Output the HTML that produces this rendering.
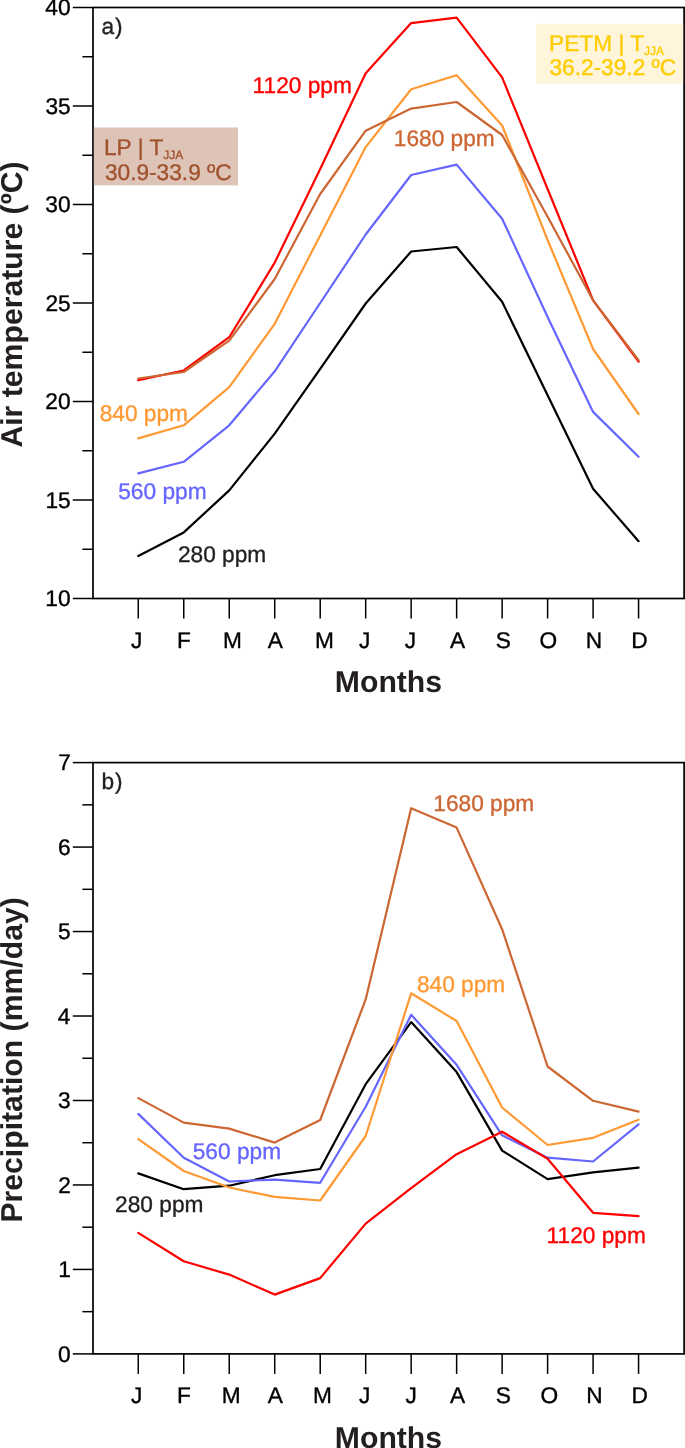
<!DOCTYPE html>
<html><head><meta charset="utf-8"><style>
html,body{margin:0;padding:0;background:#fff;overflow:hidden;}
svg{display:block;will-change:transform;}
text{font-family:"Liberation Sans",sans-serif;text-rendering:geometricPrecision;}
</style></head><body>
<svg width="685" height="1448" viewBox="0 0 685 1448">
<rect x="93.00" y="7.50" width="591.10" height="591.00" fill="none" stroke="#000000" stroke-width="1.7"/>
<line x1="72.80" y1="598.50" x2="93.00" y2="598.50" stroke="#000000" stroke-width="1.5"/>
<text transform="translate(70.59 606.20) scale(1 1.0)" font-size="22.7" text-anchor="end" fill="#000" font-weight="normal" stroke="#000" stroke-width="0.35" >10</text>
<line x1="72.80" y1="500.00" x2="93.00" y2="500.00" stroke="#000000" stroke-width="1.5"/>
<text transform="translate(70.65 507.70) scale(1 1.0)" font-size="22.7" text-anchor="end" fill="#000" font-weight="normal" stroke="#000" stroke-width="0.35" >15</text>
<line x1="72.80" y1="401.50" x2="93.00" y2="401.50" stroke="#000000" stroke-width="1.5"/>
<text transform="translate(70.59 409.20) scale(1 1.0)" font-size="22.7" text-anchor="end" fill="#000" font-weight="normal" stroke="#000" stroke-width="0.35" >20</text>
<line x1="72.80" y1="303.00" x2="93.00" y2="303.00" stroke="#000000" stroke-width="1.5"/>
<text transform="translate(70.65 310.70) scale(1 1.0)" font-size="22.7" text-anchor="end" fill="#000" font-weight="normal" stroke="#000" stroke-width="0.35" >25</text>
<line x1="72.80" y1="204.50" x2="93.00" y2="204.50" stroke="#000000" stroke-width="1.5"/>
<text transform="translate(70.59 212.20) scale(1 1.0)" font-size="22.7" text-anchor="end" fill="#000" font-weight="normal" stroke="#000" stroke-width="0.35" >30</text>
<line x1="72.80" y1="106.00" x2="93.00" y2="106.00" stroke="#000000" stroke-width="1.5"/>
<text transform="translate(70.65 113.70) scale(1 1.0)" font-size="22.7" text-anchor="end" fill="#000" font-weight="normal" stroke="#000" stroke-width="0.35" >35</text>
<line x1="72.80" y1="7.50" x2="93.00" y2="7.50" stroke="#000000" stroke-width="1.5"/>
<text transform="translate(70.59 15.20) scale(1 1.0)" font-size="22.7" text-anchor="end" fill="#000" font-weight="normal" stroke="#000" stroke-width="0.35" >40</text>
<line x1="82.40" y1="549.25" x2="93.00" y2="549.25" stroke="#000000" stroke-width="1.5"/>
<line x1="82.40" y1="450.75" x2="93.00" y2="450.75" stroke="#000000" stroke-width="1.5"/>
<line x1="82.40" y1="352.25" x2="93.00" y2="352.25" stroke="#000000" stroke-width="1.5"/>
<line x1="82.40" y1="253.75" x2="93.00" y2="253.75" stroke="#000000" stroke-width="1.5"/>
<line x1="82.40" y1="155.25" x2="93.00" y2="155.25" stroke="#000000" stroke-width="1.5"/>
<line x1="82.40" y1="56.75" x2="93.00" y2="56.75" stroke="#000000" stroke-width="1.5"/>
<line x1="138.28" y1="598.50" x2="138.28" y2="618.50" stroke="#000000" stroke-width="1.5"/>
<text transform="translate(131.09 647.60) scale(1 1.0)" font-size="22.7" text-anchor="start" fill="#000" font-weight="normal" stroke="#000" stroke-width="0.35" >J</text>
<line x1="183.76" y1="598.50" x2="183.76" y2="618.50" stroke="#000000" stroke-width="1.5"/>
<text transform="translate(177.09 647.60) scale(1 1.0)" font-size="22.7" text-anchor="start" fill="#000" font-weight="normal" stroke="#000" stroke-width="0.35" >F</text>
<line x1="229.24" y1="598.50" x2="229.24" y2="618.50" stroke="#000000" stroke-width="1.5"/>
<text transform="translate(223.10 647.60) scale(1 1.0)" font-size="22.7" text-anchor="start" fill="#000" font-weight="normal" stroke="#000" stroke-width="0.35" >M</text>
<line x1="274.72" y1="598.50" x2="274.72" y2="618.50" stroke="#000000" stroke-width="1.5"/>
<text transform="translate(267.83 647.60) scale(1 1.0)" font-size="22.7" text-anchor="start" fill="#000" font-weight="normal" stroke="#000" stroke-width="0.35" >A</text>
<line x1="320.20" y1="598.50" x2="320.20" y2="618.50" stroke="#000000" stroke-width="1.5"/>
<text transform="translate(315.05 647.60) scale(1 1.0)" font-size="22.7" text-anchor="start" fill="#000" font-weight="normal" stroke="#000" stroke-width="0.35" >M</text>
<line x1="365.68" y1="598.50" x2="365.68" y2="618.50" stroke="#000000" stroke-width="1.5"/>
<text transform="translate(359.04 647.60) scale(1 1.0)" font-size="22.7" text-anchor="start" fill="#000" font-weight="normal" stroke="#000" stroke-width="0.35" >J</text>
<line x1="411.16" y1="598.50" x2="411.16" y2="618.50" stroke="#000000" stroke-width="1.5"/>
<text transform="translate(404.79 647.60) scale(1 1.0)" font-size="22.7" text-anchor="start" fill="#000" font-weight="normal" stroke="#000" stroke-width="0.35" >J</text>
<line x1="456.64" y1="598.50" x2="456.64" y2="618.50" stroke="#000000" stroke-width="1.5"/>
<text transform="translate(450.08 647.60) scale(1 1.0)" font-size="22.7" text-anchor="start" fill="#000" font-weight="normal" stroke="#000" stroke-width="0.35" >A</text>
<line x1="502.12" y1="598.50" x2="502.12" y2="618.50" stroke="#000000" stroke-width="1.5"/>
<text transform="translate(495.79 647.60) scale(1 1.0)" font-size="22.7" text-anchor="start" fill="#000" font-weight="normal" stroke="#000" stroke-width="0.35" >S</text>
<line x1="547.60" y1="598.50" x2="547.60" y2="618.50" stroke="#000000" stroke-width="1.5"/>
<text transform="translate(539.58 647.60) scale(1 1.0)" font-size="22.7" text-anchor="start" fill="#000" font-weight="normal" stroke="#000" stroke-width="0.35" >O</text>
<line x1="593.08" y1="598.50" x2="593.08" y2="618.50" stroke="#000000" stroke-width="1.5"/>
<text transform="translate(585.85 647.60) scale(1 1.0)" font-size="22.7" text-anchor="start" fill="#000" font-weight="normal" stroke="#000" stroke-width="0.35" >N</text>
<line x1="638.56" y1="598.50" x2="638.56" y2="618.50" stroke="#000000" stroke-width="1.5"/>
<text transform="translate(631.32 647.60) scale(1 1.0)" font-size="22.7" text-anchor="start" fill="#000" font-weight="normal" stroke="#000" stroke-width="0.35" >D</text>
<text transform="translate(388.45 692.20) scale(1 1.0)" font-size="30.2" text-anchor="middle" fill="#231f20" font-weight="bold" >Months</text>
<text x="0" y="0" font-size="30.2" font-weight="bold" fill="#231f20" text-anchor="middle" transform="translate(22.3 304.5) rotate(-90)">Air temperature (ºC)</text>
<text transform="translate(101.50 34.00) scale(1 1.0)" font-size="22.7" text-anchor="start" fill="#231f20" font-weight="normal" stroke="#231f20" stroke-width="0.35" >a<tspan dx="0.9">)</tspan></text>
<rect x="93.9" y="127.5" width="144.1" height="57.9" fill="#dec3b7"/>
<rect x="536.1" y="23.7" width="147" height="59.9" fill="#fef5da"/>
<text transform="translate(103.99 155.00) scale(1 1.0)" font-size="22.7" text-anchor="start" fill="#a0522d" font-weight="normal" stroke="#a0522d" stroke-width="0.35" >LP | T<tspan font-size="12" dy="4">JJA</tspan></text>
<text transform="translate(104.89 180.20) scale(1 1.0)" font-size="22.7" text-anchor="start" fill="#a0522d" font-weight="normal" stroke="#a0522d" stroke-width="0.35" >30.9-33.9 ºC</text>
<text transform="translate(549.09 50.60) scale(1 1.0)" font-size="22.7" text-anchor="start" fill="#ffcc00" font-weight="normal" stroke="#ffcc00" stroke-width="0.35" >PETM | T<tspan font-size="12" dy="4">JJA</tspan></text>
<text transform="translate(549.39 75.30) scale(1 1.0)" font-size="22.7" text-anchor="start" fill="#ffcc00" font-weight="normal" stroke="#ffcc00" stroke-width="0.35" >36.2-39.2 ºC</text>
<polyline points="138.28,556.10 183.76,532.40 229.24,490.40 274.72,433.60 320.20,368.80 365.68,303.50 411.16,251.50 456.64,247.00 502.12,301.80 547.60,395.30 593.08,488.80 638.56,541.20" fill="none" stroke="#000000" stroke-width="2.2" stroke-linejoin="round" stroke-linecap="round"/>
<polyline points="138.28,473.40 183.76,461.80 229.24,425.30 274.72,371.30 320.20,303.00 365.68,234.50 411.16,175.00 456.64,164.60 502.12,218.70 547.60,317.00 593.08,411.90 638.56,456.80" fill="none" stroke="#6666ff" stroke-width="2.2" stroke-linejoin="round" stroke-linecap="round"/>
<polyline points="138.28,438.40 183.76,425.30 229.24,387.10 274.72,323.80 320.20,235.40 365.68,147.10 411.16,89.30 456.64,75.30 502.12,125.50 547.60,240.00 593.08,349.00 638.56,414.00" fill="none" stroke="#ff9933" stroke-width="2.2" stroke-linejoin="round" stroke-linecap="round"/>
<polyline points="138.28,380.20 183.76,370.50 229.24,337.20 274.72,262.60 320.20,169.00 365.68,73.20 411.16,23.10 456.64,17.60 502.12,77.40 547.60,189.00 593.08,300.30 638.56,361.60" fill="none" stroke="#ff0000" stroke-width="2.2" stroke-linejoin="round" stroke-linecap="round"/>
<polyline points="138.28,378.50 183.76,372.00 229.24,340.70 274.72,279.00 320.20,194.00 365.68,130.70 411.16,108.60 456.64,102.00 502.12,135.00 547.60,216.70 593.08,300.30 638.56,360.10" fill="none" stroke="#cc6633" stroke-width="2.2" stroke-linejoin="round" stroke-linecap="round"/>
<text transform="translate(252.62 92.50) scale(1 1.0)" font-size="22.7" text-anchor="start" fill="#ff0000" font-weight="normal" stroke="#ff0000" stroke-width="0.35" >1120 ppm</text>
<text transform="translate(393.82 146.00) scale(1 1.0)" font-size="22.7" text-anchor="start" fill="#cc6633" font-weight="normal" stroke="#cc6633" stroke-width="0.35" >1680 ppm</text>
<text transform="translate(99.66 420.60) scale(1 1.0)" font-size="22.7" text-anchor="start" fill="#ff9933" font-weight="normal" stroke="#ff9933" stroke-width="0.35" >840 ppm</text>
<text transform="translate(118.24 499.40) scale(1 1.0)" font-size="22.7" text-anchor="start" fill="#6666ff" font-weight="normal" stroke="#6666ff" stroke-width="0.35" >560 ppm</text>
<text transform="translate(177.91 561.60) scale(1 1.0)" font-size="22.7" text-anchor="start" fill="#231f20" font-weight="normal" stroke="#231f20" stroke-width="0.35" >280 ppm</text>
<rect x="93.00" y="762.60" width="591.10" height="591.30" fill="none" stroke="#000000" stroke-width="1.7"/>
<line x1="72.80" y1="1353.90" x2="93.00" y2="1353.90" stroke="#000000" stroke-width="1.5"/>
<text transform="translate(70.59 1361.60) scale(1 1.0)" font-size="22.7" text-anchor="end" fill="#000" font-weight="normal" stroke="#000" stroke-width="0.35" >0</text>
<line x1="72.80" y1="1269.43" x2="93.00" y2="1269.43" stroke="#000000" stroke-width="1.5"/>
<text transform="translate(70.81 1277.13) scale(1 1.0)" font-size="22.7" text-anchor="end" fill="#000" font-weight="normal" stroke="#000" stroke-width="0.35" >1</text>
<line x1="72.80" y1="1184.96" x2="93.00" y2="1184.96" stroke="#000000" stroke-width="1.5"/>
<text transform="translate(70.84 1192.66) scale(1 1.0)" font-size="22.7" text-anchor="end" fill="#000" font-weight="normal" stroke="#000" stroke-width="0.35" >2</text>
<line x1="72.80" y1="1100.49" x2="93.00" y2="1100.49" stroke="#000000" stroke-width="1.5"/>
<text transform="translate(70.70 1108.19) scale(1 1.0)" font-size="22.7" text-anchor="end" fill="#000" font-weight="normal" stroke="#000" stroke-width="0.35" >3</text>
<line x1="72.80" y1="1016.01" x2="93.00" y2="1016.01" stroke="#000000" stroke-width="1.5"/>
<text transform="translate(70.37 1023.71) scale(1 1.0)" font-size="22.7" text-anchor="end" fill="#000" font-weight="normal" stroke="#000" stroke-width="0.35" >4</text>
<line x1="72.80" y1="931.54" x2="93.00" y2="931.54" stroke="#000000" stroke-width="1.5"/>
<text transform="translate(70.65 939.24) scale(1 1.0)" font-size="22.7" text-anchor="end" fill="#000" font-weight="normal" stroke="#000" stroke-width="0.35" >5</text>
<line x1="72.80" y1="847.07" x2="93.00" y2="847.07" stroke="#000000" stroke-width="1.5"/>
<text transform="translate(70.70 854.77) scale(1 1.0)" font-size="22.7" text-anchor="end" fill="#000" font-weight="normal" stroke="#000" stroke-width="0.35" >6</text>
<line x1="72.80" y1="762.60" x2="93.00" y2="762.60" stroke="#000000" stroke-width="1.5"/>
<text transform="translate(70.84 770.30) scale(1 1.0)" font-size="22.7" text-anchor="end" fill="#000" font-weight="normal" stroke="#000" stroke-width="0.35" >7</text>
<line x1="82.40" y1="1311.66" x2="93.00" y2="1311.66" stroke="#000000" stroke-width="1.5"/>
<line x1="82.40" y1="1227.19" x2="93.00" y2="1227.19" stroke="#000000" stroke-width="1.5"/>
<line x1="82.40" y1="1142.72" x2="93.00" y2="1142.72" stroke="#000000" stroke-width="1.5"/>
<line x1="82.40" y1="1058.25" x2="93.00" y2="1058.25" stroke="#000000" stroke-width="1.5"/>
<line x1="82.40" y1="973.78" x2="93.00" y2="973.78" stroke="#000000" stroke-width="1.5"/>
<line x1="82.40" y1="889.31" x2="93.00" y2="889.31" stroke="#000000" stroke-width="1.5"/>
<line x1="82.40" y1="804.84" x2="93.00" y2="804.84" stroke="#000000" stroke-width="1.5"/>
<line x1="138.28" y1="1353.90" x2="138.28" y2="1373.90" stroke="#000000" stroke-width="1.5"/>
<text transform="translate(131.09 1403.30) scale(1 1.0)" font-size="22.7" text-anchor="start" fill="#000" font-weight="normal" stroke="#000" stroke-width="0.35" >J</text>
<line x1="183.76" y1="1353.90" x2="183.76" y2="1373.90" stroke="#000000" stroke-width="1.5"/>
<text transform="translate(177.09 1403.30) scale(1 1.0)" font-size="22.7" text-anchor="start" fill="#000" font-weight="normal" stroke="#000" stroke-width="0.35" >F</text>
<line x1="229.24" y1="1353.90" x2="229.24" y2="1373.90" stroke="#000000" stroke-width="1.5"/>
<text transform="translate(221.65 1403.30) scale(1 1.0)" font-size="22.7" text-anchor="start" fill="#000" font-weight="normal" stroke="#000" stroke-width="0.35" >M</text>
<line x1="274.72" y1="1353.90" x2="274.72" y2="1373.90" stroke="#000000" stroke-width="1.5"/>
<text transform="translate(267.83 1403.30) scale(1 1.0)" font-size="22.7" text-anchor="start" fill="#000" font-weight="normal" stroke="#000" stroke-width="0.35" >A</text>
<line x1="320.20" y1="1353.90" x2="320.20" y2="1373.90" stroke="#000000" stroke-width="1.5"/>
<text transform="translate(312.90 1403.30) scale(1 1.0)" font-size="22.7" text-anchor="start" fill="#000" font-weight="normal" stroke="#000" stroke-width="0.35" >M</text>
<line x1="365.68" y1="1353.90" x2="365.68" y2="1373.90" stroke="#000000" stroke-width="1.5"/>
<text transform="translate(359.04 1403.30) scale(1 1.0)" font-size="22.7" text-anchor="start" fill="#000" font-weight="normal" stroke="#000" stroke-width="0.35" >J</text>
<line x1="411.16" y1="1353.90" x2="411.16" y2="1373.90" stroke="#000000" stroke-width="1.5"/>
<text transform="translate(405.49 1403.30) scale(1 1.0)" font-size="22.7" text-anchor="start" fill="#000" font-weight="normal" stroke="#000" stroke-width="0.35" >J</text>
<line x1="456.64" y1="1353.90" x2="456.64" y2="1373.90" stroke="#000000" stroke-width="1.5"/>
<text transform="translate(450.08 1403.30) scale(1 1.0)" font-size="22.7" text-anchor="start" fill="#000" font-weight="normal" stroke="#000" stroke-width="0.35" >A</text>
<line x1="502.12" y1="1353.90" x2="502.12" y2="1373.90" stroke="#000000" stroke-width="1.5"/>
<text transform="translate(495.79 1403.30) scale(1 1.0)" font-size="22.7" text-anchor="start" fill="#000" font-weight="normal" stroke="#000" stroke-width="0.35" >S</text>
<line x1="547.60" y1="1353.90" x2="547.60" y2="1373.90" stroke="#000000" stroke-width="1.5"/>
<text transform="translate(540.48 1403.30) scale(1 1.0)" font-size="22.7" text-anchor="start" fill="#000" font-weight="normal" stroke="#000" stroke-width="0.35" >O</text>
<line x1="593.08" y1="1353.90" x2="593.08" y2="1373.90" stroke="#000000" stroke-width="1.5"/>
<text transform="translate(586.20 1403.30) scale(1 1.0)" font-size="22.7" text-anchor="start" fill="#000" font-weight="normal" stroke="#000" stroke-width="0.35" >N</text>
<line x1="638.56" y1="1353.90" x2="638.56" y2="1373.90" stroke="#000000" stroke-width="1.5"/>
<text transform="translate(631.52 1403.30) scale(1 1.0)" font-size="22.7" text-anchor="start" fill="#000" font-weight="normal" stroke="#000" stroke-width="0.35" >D</text>
<text transform="translate(388.45 1447.60) scale(1 1.0)" font-size="30.2" text-anchor="middle" fill="#231f20" font-weight="bold" >Months</text>
<text x="0" y="0" font-size="30.2" font-weight="bold" fill="#231f20" text-anchor="middle" transform="translate(22.3 1059.9) rotate(-90)">Precipitation (mm/day)</text>
<text transform="translate(101.50 789.10) scale(1 1.0)" font-size="22.7" text-anchor="start" fill="#231f20" font-weight="normal" stroke="#231f20" stroke-width="0.35" >b<tspan dx="0.9">)</tspan></text>
<polyline points="138.28,1173.40 183.76,1189.20 229.24,1185.70 274.72,1175.20 320.20,1169.00 365.68,1084.20 411.16,1022.10 456.64,1072.10 502.12,1150.60 547.60,1179.10 593.08,1172.30 638.56,1167.70" fill="none" stroke="#000000" stroke-width="2.2" stroke-linejoin="round" stroke-linecap="round"/>
<polyline points="138.28,1113.90 183.76,1157.70 229.24,1181.50 274.72,1179.70 320.20,1182.80 365.68,1106.80 411.16,1014.80 456.64,1064.80 502.12,1135.30 547.60,1157.70 593.08,1161.50 638.56,1124.30" fill="none" stroke="#6666ff" stroke-width="2.2" stroke-linejoin="round" stroke-linecap="round"/>
<polyline points="138.28,1139.10 183.76,1171.00 229.24,1187.50 274.72,1196.90 320.20,1200.50 365.68,1136.00 411.16,993.30 456.64,1021.00 502.12,1107.50 547.60,1145.00 593.08,1137.80 638.56,1119.70" fill="none" stroke="#ff9933" stroke-width="2.2" stroke-linejoin="round" stroke-linecap="round"/>
<polyline points="138.28,1098.10 183.76,1122.60 229.24,1128.60 274.72,1142.60 320.20,1120.00 365.68,999.40 411.16,808.20 456.64,827.60 502.12,929.20 547.60,1066.50 593.08,1100.80 638.56,1111.60" fill="none" stroke="#cc6633" stroke-width="2.2" stroke-linejoin="round" stroke-linecap="round"/>
<polyline points="138.28,1232.90 183.76,1261.30 229.24,1274.60 274.72,1294.60 320.20,1278.10 365.68,1223.60 411.16,1188.20 456.64,1154.20 502.12,1131.70 547.60,1158.70 593.08,1212.80 638.56,1216.10" fill="none" stroke="#ff0000" stroke-width="2.2" stroke-linejoin="round" stroke-linecap="round"/>
<text transform="translate(433.32 811.20) scale(1 1.0)" font-size="22.7" text-anchor="start" fill="#cc6633" font-weight="normal" stroke="#cc6633" stroke-width="0.35" >1680 ppm</text>
<text transform="translate(416.96 991.50) scale(1 1.0)" font-size="22.7" text-anchor="start" fill="#ff9933" font-weight="normal" stroke="#ff9933" stroke-width="0.35" >840 ppm</text>
<text transform="translate(192.74 1159.40) scale(1 1.0)" font-size="22.7" text-anchor="start" fill="#6666ff" font-weight="normal" stroke="#6666ff" stroke-width="0.35" >560 ppm</text>
<text transform="translate(115.11 1211.50) scale(1 1.0)" font-size="22.7" text-anchor="start" fill="#231f20" font-weight="normal" stroke="#231f20" stroke-width="0.35" >280 ppm</text>
<text transform="translate(546.62 1242.60) scale(1 1.0)" font-size="22.7" text-anchor="start" fill="#ff0000" font-weight="normal" stroke="#ff0000" stroke-width="0.35" >1120 ppm</text>
</svg>
</body></html>
